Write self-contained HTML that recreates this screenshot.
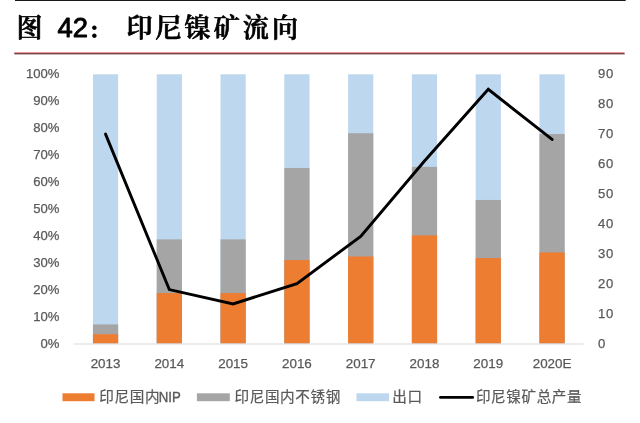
<!DOCTYPE html>
<html lang="zh-CN"><head><meta charset="utf-8"><title>图 42： 印尼镍矿流向</title>
<style>
html,body{margin:0;padding:0;background:#fff;}
body{width:640px;height:423px;overflow:hidden;position:relative;}
svg{display:block;position:absolute;left:0;top:0;}
.ax{font-family:"Liberation Sans","Noto Sans CJK SC",sans-serif;font-size:13.1px;fill:#595959;stroke:#595959;stroke-width:0.25px;}
.lg{font-family:"Liberation Sans","Noto Sans CJK SC",sans-serif;font-size:14.6px;fill:#595959;stroke:#595959;stroke-width:0.2px;}
.tt{font-family:"Liberation Sans","Noto Serif CJK SC",serif;font-weight:600;font-size:26px;fill:#000;stroke:#000;stroke-width:0.7px;stroke-linejoin:round;}
</style></head><body>
<svg width="640" height="423" viewBox="0 0 640 423">
<rect x="0" y="0" width="640" height="423" fill="#ffffff"/>
<rect x="15" y="0" width="610.7" height="1" fill="#1a1a1a"/>
<rect x="14.3" y="52.5" width="610.3" height="0.9" fill="#d43a40"/><rect x="14.3" y="53.3" width="610.3" height="1" fill="#4a1418"/>

<text class="tt" x="16.5" y="36.8">图</text>
<text class="tt" x="57.6" y="36.5" style="font-weight:400;font-size:27.4px;stroke:#000;stroke-width:0.9px;stroke-linejoin:round">42</text>
<text x="89.7" y="37.6" style="font-family:'DejaVu Serif',serif;font-weight:bold;font-size:25px;fill:#000">:</text>
<text class="tt" x="126.4" y="36.8" letter-spacing="3.1">印尼镍矿流向</text>
<rect x="92.94" y="74.30" width="25.2" height="269.10" fill="#bdd7ee"/>
<rect x="92.94" y="324.43" width="25.2" height="18.97" fill="#a5a5a5"/>
<rect x="92.94" y="334.25" width="25.2" height="9.15" fill="#ed7d31"/>
<rect x="156.73" y="74.30" width="25.2" height="269.10" fill="#bdd7ee"/>
<rect x="156.73" y="239.39" width="25.2" height="104.01" fill="#a5a5a5"/>
<rect x="156.73" y="293.08" width="25.2" height="50.32" fill="#ed7d31"/>
<rect x="220.52" y="74.30" width="25.2" height="269.10" fill="#bdd7ee"/>
<rect x="220.52" y="239.39" width="25.2" height="104.01" fill="#a5a5a5"/>
<rect x="220.52" y="293.08" width="25.2" height="50.32" fill="#ed7d31"/>
<rect x="284.31" y="74.30" width="25.2" height="269.10" fill="#bdd7ee"/>
<rect x="284.31" y="167.95" width="25.2" height="175.45" fill="#a5a5a5"/>
<rect x="284.31" y="260.11" width="25.2" height="83.29" fill="#ed7d31"/>
<rect x="348.09" y="74.30" width="25.2" height="269.10" fill="#bdd7ee"/>
<rect x="348.09" y="133.23" width="25.2" height="210.17" fill="#a5a5a5"/>
<rect x="348.09" y="256.48" width="25.2" height="86.92" fill="#ed7d31"/>
<rect x="411.88" y="74.30" width="25.2" height="269.10" fill="#bdd7ee"/>
<rect x="411.88" y="166.87" width="25.2" height="176.53" fill="#a5a5a5"/>
<rect x="411.88" y="235.36" width="25.2" height="108.04" fill="#ed7d31"/>
<rect x="475.67" y="74.30" width="25.2" height="269.10" fill="#bdd7ee"/>
<rect x="475.67" y="199.97" width="25.2" height="143.43" fill="#a5a5a5"/>
<rect x="475.67" y="258.10" width="25.2" height="85.30" fill="#ed7d31"/>
<rect x="539.46" y="74.30" width="25.2" height="269.10" fill="#bdd7ee"/>
<rect x="539.46" y="134.04" width="25.2" height="209.36" fill="#a5a5a5"/>
<rect x="539.46" y="252.44" width="25.2" height="90.96" fill="#ed7d31"/>
<rect x="73.7" y="343.50" width="509.9" height="1" fill="#d9d9d9"/>
<polyline points="105.54,134.10 169.33,289.58 233.12,303.93 296.91,283.60 360.69,236.36 424.48,161.01 488.27,89.25 552.06,139.48" fill="none" stroke="#000" stroke-width="2.9" stroke-linecap="round" stroke-linejoin="miter" stroke-miterlimit="10"/>
<text class="ax" x="59.5" y="348.20" text-anchor="end">0%</text>
<text class="ax" x="59.5" y="321.20" text-anchor="end">10%</text>
<text class="ax" x="59.5" y="294.20" text-anchor="end">20%</text>
<text class="ax" x="59.5" y="267.20" text-anchor="end">30%</text>
<text class="ax" x="59.5" y="240.20" text-anchor="end">40%</text>
<text class="ax" x="59.5" y="213.20" text-anchor="end">50%</text>
<text class="ax" x="59.5" y="186.20" text-anchor="end">60%</text>
<text class="ax" x="59.5" y="159.20" text-anchor="end">70%</text>
<text class="ax" x="59.5" y="132.20" text-anchor="end">80%</text>
<text class="ax" x="59.5" y="105.20" text-anchor="end">90%</text>
<text class="ax" x="59.5" y="78.20" text-anchor="end">100%</text>
<text class="ax" x="598" y="348.20" letter-spacing="0.7">0</text>
<text class="ax" x="598" y="318.20" letter-spacing="0.7">10</text>
<text class="ax" x="598" y="288.20" letter-spacing="0.7">20</text>
<text class="ax" x="598" y="258.20" letter-spacing="0.7">30</text>
<text class="ax" x="598" y="228.20" letter-spacing="0.7">40</text>
<text class="ax" x="598" y="198.20" letter-spacing="0.7">50</text>
<text class="ax" x="598" y="168.20" letter-spacing="0.7">60</text>
<text class="ax" x="598" y="138.20" letter-spacing="0.7">70</text>
<text class="ax" x="598" y="108.20" letter-spacing="0.7">80</text>
<text class="ax" x="598" y="78.20" letter-spacing="0.7">90</text>
<text class="ax" x="105.54" y="368" text-anchor="middle" style="font-size:13.4px">2013</text>
<text class="ax" x="169.33" y="368" text-anchor="middle" style="font-size:13.4px">2014</text>
<text class="ax" x="233.12" y="368" text-anchor="middle" style="font-size:13.4px">2015</text>
<text class="ax" x="296.91" y="368" text-anchor="middle" style="font-size:13.4px">2016</text>
<text class="ax" x="360.69" y="368" text-anchor="middle" style="font-size:13.4px">2017</text>
<text class="ax" x="424.48" y="368" text-anchor="middle" style="font-size:13.4px">2018</text>
<text class="ax" x="488.27" y="368" text-anchor="middle" style="font-size:13.4px">2019</text>
<text class="ax" x="552.06" y="368" text-anchor="middle" style="font-size:13.4px">2020E</text>
<rect x="62.5" y="393.3" width="32" height="7.9" fill="#ed7d31"/>
<text class="lg" y="402.3"><tspan x="99.3" letter-spacing="0.6">印尼国内</tspan><tspan x="158.7" dy="-0.5" style="font-size:13.9px;stroke-width:0.35px" textLength="22" lengthAdjust="spacingAndGlyphs">NIP</tspan></text>
<rect x="196.9" y="393.3" width="32.9" height="7.9" fill="#a5a5a5"/>
<text class="lg" x="234.5" y="402.3" letter-spacing="0.6">印尼国内不锈钢</text>
<rect x="356.5" y="393.3" width="32.6" height="7.9" fill="#bdd7ee"/>
<text class="lg" x="392.3" y="402.3" letter-spacing="0.6">出口</text>
<line x1="440.5" y1="397.4" x2="472.6" y2="397.4" stroke="#000" stroke-width="2.9" stroke-linecap="round"/>
<text class="lg" x="475.9" y="402.3" letter-spacing="0.6">印尼镍矿总产量</text>
</svg></body></html>
